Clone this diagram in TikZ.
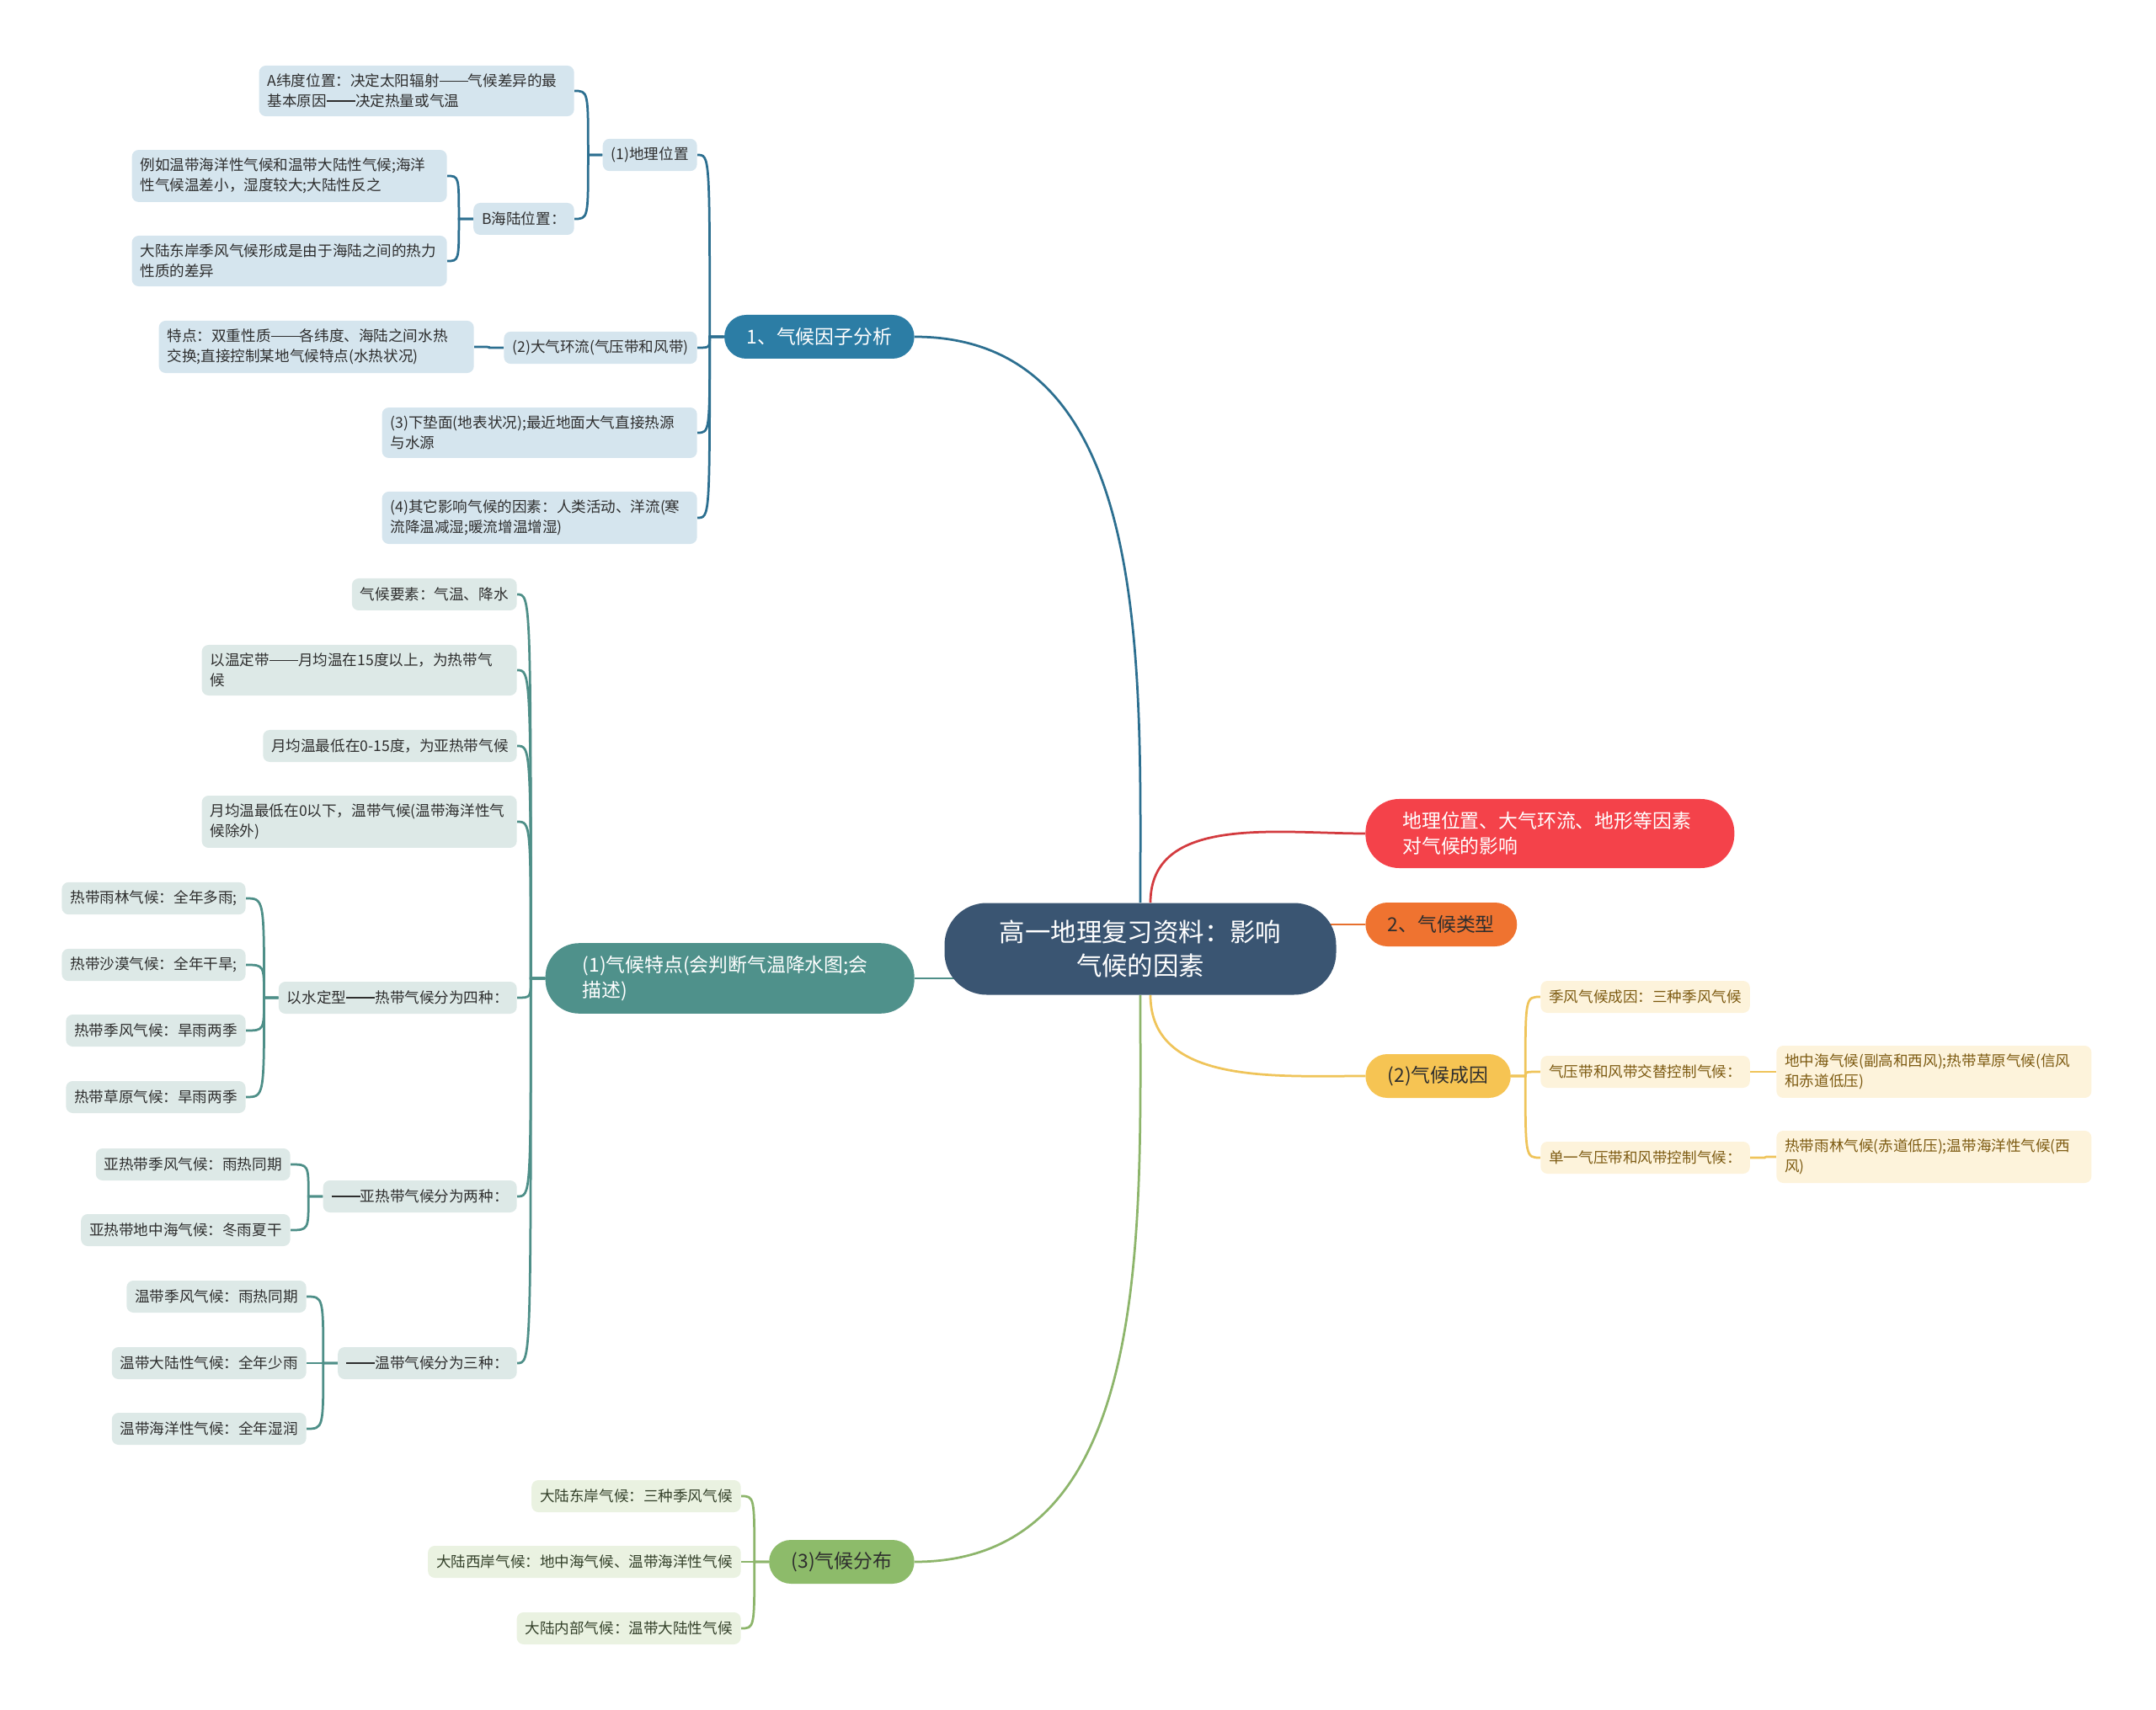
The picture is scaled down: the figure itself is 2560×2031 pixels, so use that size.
\documentclass[tikz,border=0pt]{standalone}
\usepackage{fontspec}
\setmainfont{Noto Sans CJK SC}
\usetikzlibrary{backgrounds}
\definecolor{ink}{HTML}{2E2E2E}
\definecolor{hub}{HTML}{3A5572}
\definecolor{factor}{HTML}{2C7DA5}
\definecolor{factorbg}{HTML}{D5E5EE}
\definecolor{factorline}{HTML}{2C6F90}
\definecolor{trait}{HTML}{4F918B}
\definecolor{traitbg}{HTML}{DDE9E7}
\definecolor{traitline}{HTML}{4E8F88}
\definecolor{spread}{HTML}{8DBB6A}
\definecolor{spreadbg}{HTML}{EAF2E1}
\definecolor{spreadline}{HTML}{8DB56B}
\definecolor{spreadink}{HTML}{34412A}
\definecolor{cause}{HTML}{F6C453}
\definecolor{causebg}{HTML}{FDF3DB}
\definecolor{causeline}{HTML}{EFC45A}
\definecolor{causeink}{HTML}{7D5B12}
\definecolor{effect}{HTML}{F4424A}
\definecolor{effectline}{HTML}{D33B3F}
\definecolor{kind}{HTML}{EF7330}
\definecolor{kindline}{HTML}{E7702E}
\newcommand{\cjkdash}{\rule[0.34em]{1.95em}{0.07em}}
\tikzset{
  every node/.style={font=\fontsize{10}{13.5}\selectfont,text=ink},
  hubbox/.style={fill=hub,text=white,rounded corners=10mm,minimum width=93mm,minimum height=21.8mm,align=center,font=\fontsize{17.3}{23}\selectfont},
  mainbox/.style={rounded corners=5.2mm,inner xsep=5.3mm,minimum height=10.4mm,font=\fontsize{13}{17}\selectfont},
  mainwide/.style={mainbox,rounded corners=8mm,text width=70mm,align=left,inner xsep=8.8mm,inner ysep=3mm,minimum height=16.4mm},
  leaf/.style={rounded corners=1.6mm,inner xsep=2mm,inner ysep=2mm,minimum height=7.6mm},
  twoline/.style={text width=70.8mm,align=left},
  factorleaf/.style={leaf,fill=factorbg},
  traitleaf/.style={leaf,fill=traitbg},
  spreadleaf/.style={leaf,fill=spreadbg,text=spreadink},
  causeleaf/.style={leaf,fill=causebg,text=causeink},
  twigl/.style={to path={-- ++(-17,0) coordinate (j) .. controls (j |- \tikztotarget) and (j |- \tikztotarget) .. (\tikztotarget)}},
  twigr/.style={to path={-- ++(17,0) coordinate (j) .. controls (j |- \tikztotarget) and (j |- \tikztotarget) .. (\tikztotarget)}},
  factorlink/.style={line width=0.55mm,draw=factorline},
  traitlink/.style={line width=0.55mm,draw=traitline},
  spreadlink/.style={line width=0.55mm,draw=spreadline},
  causelink/.style={line width=0.55mm,draw=causeline},
}
\begin{document}
\begin{tikzpicture}[x=0.2mm,y=0.2mm]
\useasboundingbox (0,0) rectangle (2560,-2031);

\node[hubbox] (hub) at (1354,-1127) {高一地理复习资料：影响\\气候的因素};

\node[mainbox,fill=factor,text=white,anchor=east] (factors) at (1086,-400) {1、气候因子分析};
\node[mainwide,fill=trait,text=white,anchor=east] (traits) at (1086,-1162) {(1)气候特点(会判断气温降水图;会\\描述)};
\node[mainbox,fill=spread,anchor=east] (distrib) at (1086,-1855) {(3)气候分布};
\node[mainwide,fill=effect,text=white,anchor=west] (effects) at (1621,-990) {地理位置、大气环流、地形等因素\\对气候的影响};
\node[mainbox,fill=kind,anchor=west] (kinds) at (1621,-1098) {2、气候类型};
\node[mainbox,fill=cause,anchor=west] (causes) at (1621,-1278) {(2)气候成因};

\node[factorleaf,anchor=east] (place) at (828,-184) {(1)地理位置};
\node[factorleaf,anchor=east] (circulation) at (828,-413) {(2)大气环流(气压带和风带)};
\node[factorleaf,twoline,anchor=east] (surface) at (828,-514) {(3)下垫面(地表状况);最近地面大气直接热源\\与水源};
\node[factorleaf,twoline,anchor=east] (others) at (828,-615) {(4)其它影响气候的因素：人类活动、洋流(寒\\流降温减湿;暖流增温增湿)};
\node[factorleaf,twoline,anchor=east] (latitude) at (682,-108) {A纬度位置：决定太阳辐射\cjkdash 气候差异的最\\基本原因\cjkdash 决定热量或气温};
\node[factorleaf,anchor=east] (landsea) at (682,-260) {B海陆位置：};
\node[factorleaf,twoline,anchor=east] (landseaeg) at (531,-209) {例如温带海洋性气候和温带大陆性气候;海洋\\性气候温差小，湿度较大;大陆性反之};
\node[factorleaf,twoline,anchor=east] (eastcoast) at (531,-310) {大陆东岸季风气候形成是由于海陆之间的热力\\性质的差异};
\node[factorleaf,twoline,anchor=east] (dual) at (563,-412) {特点：双重性质\cjkdash 各纬度、海陆之间水热\\交换;直接控制某地气候特点(水热状况)};

\node[traitleaf,anchor=east] (elements) at (614,-706) {气候要素：气温、降水};
\node[traitleaf,twoline,anchor=east] (bytemp) at (614,-796) {以温定带\cjkdash 月均温在15度以上，为热带气\\候};
\node[traitleaf,anchor=east] (subtemp) at (614,-886) {月均温最低在0-15度，为亚热带气候};
\node[traitleaf,twoline,anchor=east] (cold) at (614,-976) {月均温最低在0以下，温带气候(温带海洋性气\\候除外)};
\node[traitleaf,anchor=east] (bywater) at (614,-1185) {以水定型\cjkdash 热带气候分为四种：};
\node[traitleaf,anchor=east] (subtwo) at (614,-1421) {\cjkdash 亚热带气候分为两种：};
\node[traitleaf,anchor=east] (tempthree) at (614,-1619) {\cjkdash 温带气候分为三种：};
\node[traitleaf,anchor=east] (rainforest) at (292,-1067) {热带雨林气候：全年多雨;};
\node[traitleaf,anchor=east] (desert) at (292,-1146) {热带沙漠气候：全年干旱;};
\node[traitleaf,anchor=east] (tropmonsoon) at (292,-1224) {热带季风气候：旱雨两季};
\node[traitleaf,anchor=east] (savanna) at (292,-1303) {热带草原气候：旱雨两季};
\node[traitleaf,anchor=east] (submonsoon) at (345,-1383) {亚热带季风气候：雨热同期};
\node[traitleaf,anchor=east] (mediterranean) at (345,-1461) {亚热带地中海气候：冬雨夏干};
\node[traitleaf,anchor=east] (tempmonsoon) at (364,-1540) {温带季风气候：雨热同期};
\node[traitleaf,anchor=east] (continental) at (364,-1619) {温带大陆性气候：全年少雨};
\node[traitleaf,anchor=east] (oceanic) at (364,-1697) {温带海洋性气候：全年湿润};

\node[spreadleaf,anchor=east] (eastside) at (880,-1777) {大陆东岸气候：三种季风气候};
\node[spreadleaf,anchor=east] (westside) at (880,-1855) {大陆西岸气候：地中海气候、温带海洋性气候};
\node[spreadleaf,anchor=east] (inland) at (880,-1934) {大陆内部气候：温带大陆性气候};

\node[causeleaf,anchor=west] (monsoon) at (1829,-1184) {季风气候成因：三种季风气候};
\node[causeleaf,anchor=west] (alternate) at (1829,-1273) {气压带和风带交替控制气候：};
\node[causeleaf,anchor=west] (single) at (1829,-1375) {单一气压带和风带控制气候：};
\node[causeleaf,twoline,anchor=west] (alternateeg) at (2109,-1273) {地中海气候(副高和西风);热带草原气候(信风\\和赤道低压)};
\node[causeleaf,twoline,anchor=west] (singleeg) at (2109,-1374) {热带雨林气候(赤道低压);温带海洋性气候(西\\风)};

\begin{scope}[on background layer]
\draw[factorlink] (hub.north) to[out=90,in=0] (factors.east);
\draw[traitlink] (traits.east) -- (traits.east -| hub.center);
\draw[spreadlink] (hub.south) to[out=-90,in=0] (distrib.east);
\draw[line width=0.55mm,draw=effectline] ([xshift=2.4mm]hub.north) to[out=90,in=180] (effects.west);
\draw[line width=0.55mm,draw=kindline] (kinds.west) -- (kinds.west -| hub.center);
\draw[causelink] ([xshift=2.4mm]hub.south) to[out=-90,in=180] (causes.west);

\draw[factorlink] (factors.west) to[twigl] (place.east);
\draw[factorlink] (factors.west) to[twigl] (circulation.east);
\draw[factorlink] (factors.west) to[twigl] (surface.east);
\draw[factorlink] (factors.west) to[twigl] (others.east);
\draw[factorlink] (place.west) to[twigl] (latitude.east);
\draw[factorlink] (place.west) to[twigl] (landsea.east);
\draw[factorlink] (landsea.west) to[twigl] (landseaeg.east);
\draw[factorlink] (landsea.west) to[twigl] (eastcoast.east);
\draw[factorlink] (circulation.west) to[twigl] (dual.east);

\draw[traitlink] (traits.west) to[twigl] (elements.east);
\draw[traitlink] (traits.west) to[twigl] (bytemp.east);
\draw[traitlink] (traits.west) to[twigl] (subtemp.east);
\draw[traitlink] (traits.west) to[twigl] (cold.east);
\draw[traitlink] (traits.west) to[twigl] (bywater.east);
\draw[traitlink] (traits.west) to[twigl] (subtwo.east);
\draw[traitlink] (traits.west) to[twigl] (tempthree.east);
\draw[traitlink] (bywater.west) to[twigl] (rainforest.east);
\draw[traitlink] (bywater.west) to[twigl] (desert.east);
\draw[traitlink] (bywater.west) to[twigl] (tropmonsoon.east);
\draw[traitlink] (bywater.west) to[twigl] (savanna.east);
\draw[traitlink] (subtwo.west) to[twigl] (submonsoon.east);
\draw[traitlink] (subtwo.west) to[twigl] (mediterranean.east);
\draw[traitlink] (tempthree.west) to[twigl] (tempmonsoon.east);
\draw[traitlink] (tempthree.west) to[twigl] (continental.east);
\draw[traitlink] (tempthree.west) to[twigl] (oceanic.east);

\draw[spreadlink] (distrib.west) to[twigl] (eastside.east);
\draw[spreadlink] (distrib.west) to[twigl] (westside.east);
\draw[spreadlink] (distrib.west) to[twigl] (inland.east);

\draw[causelink] (causes.east) to[twigr] (monsoon.west);
\draw[causelink] (causes.east) to[twigr] (alternate.west);
\draw[causelink] (causes.east) to[twigr] (single.west);
\draw[causelink] (alternate.east) to[twigr] (alternateeg.west);
\draw[causelink] (single.east) to[twigr] (singleeg.west);
\end{scope}

\end{tikzpicture}
\end{document}
